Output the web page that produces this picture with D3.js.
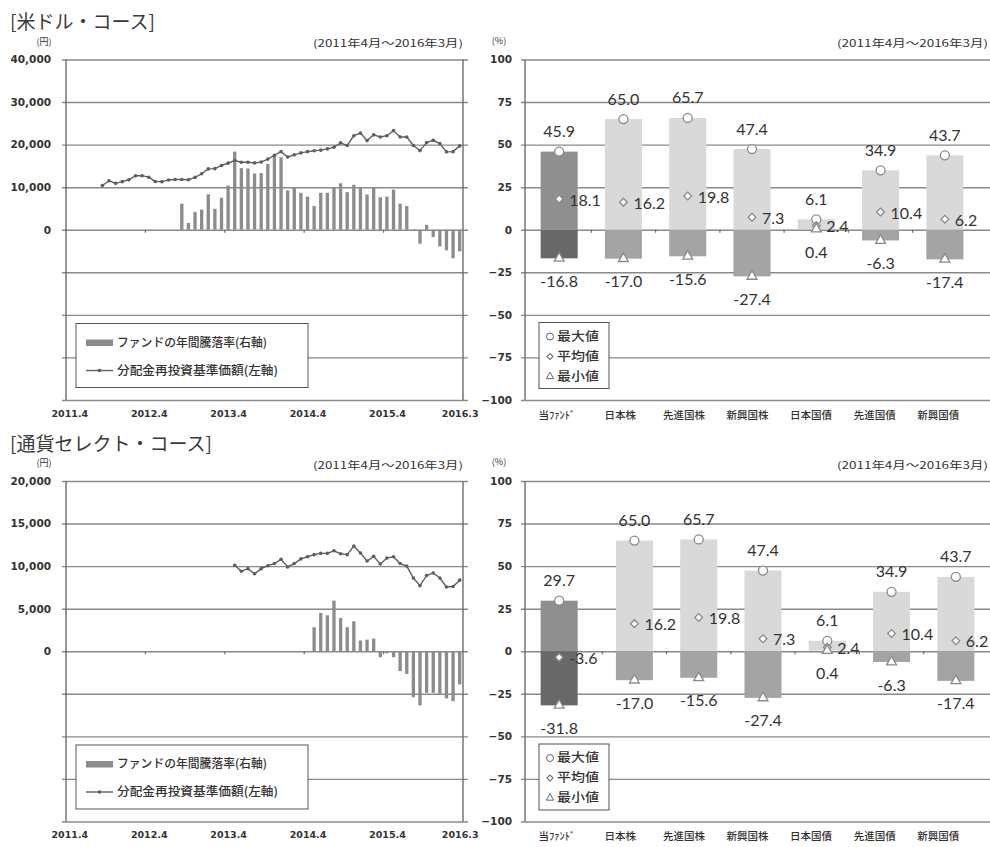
<!DOCTYPE html>
<html>
<head>
<meta charset="utf-8">
<script src="https://cdn.jsdelivr.net/npm/d3@7"></script>
<style>
  body { margin: 0; background: #fff; }
  svg { display: block; }
  .cjk { font-family: "Noto Sans CJK JP", sans-serif; }
  .num { font-family: Lato, "Noto Sans CJK JP", sans-serif; }
  .tick text { font-family: "DejaVu Sans", sans-serif; }
</style>
</head>
<body>
<svg id="chart" width="990" height="847"></svg>
<script>
// ---- data -------------------------------------------------------------
// monthly axis 2011.4 .. 2016.3
const monthLabels = d3.range(60).map(i => { const t = 3 + i; return `${2011 + Math.floor(t / 12)}.${t % 12 + 1}`; });
const xTickLabels = ["2011.4", "2012.4", "2013.4", "2014.4", "2015.4", "2016.3"];

// 米ドル・コース: 分配金再投資基準価額 (円), from 2011.9
const usdNavFrom = "2011.9";
const usdNav = [10400, 11500, 10900, 11300, 11750, 12700, 12700, 12350, 11350, 11300, 11700, 11800, 11800, 11750,
  12300, 13150, 14300, 14350, 15100, 15650, 16250, 15850, 15850, 15700, 15900, 16600, 17500, 18350, 17100,
  17600, 18050, 18350, 18550, 18700, 19000, 19400, 20400, 19800, 22100, 22700, 20950, 22300, 21800, 22100,
  23300, 21800, 21800, 19800, 18600, 20500, 21000, 20250, 18300, 18350, 19700];
// 米ドル・コース: ファンドの年間騰落率 (%), from 2012.9
const usdReturnFrom = "2012.9";
const usdReturn = [15.3, 4.0, 10.5, 11.8, 20.8, 12.3, 18.8, 26.0, 45.9, 36.2, 36.0, 33.0, 33.3, 38.7, 43.5, 42.6,
  23.1, 25.0, 21.7, 19.5, 13.9, 21.7, 21.7, 25.0, 27.3, 22.1, 26.4, 25.0, 20.7, 25.0, 19.1, 19.5, 23.6, 15.3,
  13.9, 0.3, -8.2, 2.9, -4.3, -9.8, -12.1, -16.8, -12.7];

// 通貨セレクト・コース: 分配金再投資基準価額 (円), from 2013.5
const selNavFrom = "2013.5";
const selNav = [10100, 9400, 9700, 9100, 9700, 10050, 10300, 10800, 9900, 10300, 10850, 11100, 11350, 11500,
  11500, 11800, 11450, 11350, 12350, 11550, 10600, 11150, 10250, 10950, 11100, 10300, 10000, 8600, 7700,
  8900, 9200, 8600, 7550, 7600, 8350];
// 通貨セレクト・コース: ファンドの年間騰落率 (%), from 2014.5
const selReturnFrom = "2014.5";
const selReturn = [14.1, 22.5, 21.1, 29.7, 19.5, 14.1, 17.6, 6.3, 6.8, 7.4, -3.5, -1.2, -3.5, -11.7, -13.3,
  -27.0, -31.8, -24.4, -24.4, -25.0, -27.7, -29.3, -19.5];

// 年間騰落率の比較 (%)
const assetClasses = ["当ﾌｧﾝﾄﾞ", "日本株", "先進国株", "新興国株", "日本国債", "先進国債", "新興国債"];
const usdMax = [45.9, 65.0, 65.7, 47.4, 6.1, 34.9, 43.7];
const usdAvg = [18.1, 16.2, 19.8, 7.3, 2.4, 10.4, 6.2];
const usdMin = [-16.8, -17.0, -15.6, -27.4, 0.4, -6.3, -17.4];
const selMax = [29.7, 65.0, 65.7, 47.4, 6.1, 34.9, 43.7];
const selAvg = [-3.6, 16.2, 19.8, 7.3, 2.4, 10.4, 6.2];
const selMin = [-31.8, -17.0, -15.6, -27.4, 0.4, -6.3, -17.4];

const usdNavTicks = [40000, 30000, 20000, 10000, 0];
const selNavTicks = [20000, 15000, 10000, 5000, 0];
const pctTicks = [100, 75, 50, 25, 0, -25, -50, -75, -100];

const periodText = "(2011年4月～2016年3月)";

// ---- drawing ------------------------------------------------------------
const svg = d3.select("#chart");
const GRID = 42.56;          // height of one gridline interval
const C = {
  grid: "#8a8a8a", axis: "#6c6c6c", text: "#333",
  fundBar: "#8c8c8c", nav: "#5e5e5e",
  fundUp: "#8f8f8f", fundDown: "#686868", assetUp: "#d9d9d9", assetDown: "#a4a4a4",
  marker: "#8a8a8a"
};

// diamond drawn as a square turned 45 degrees
const diamondPath = size => d3.symbol(d3.symbolSquare, size)();

function toSeries(from, values) {
  const start = monthLabels.indexOf(from);
  return monthLabels.map((m, i) => ({ m, v: (i >= start && i - start < values.length) ? values[i - start] : null }));
}

function lineChart(top, cfg) {
  const bottom = top + 8 * GRID;
  const g = svg.append("g");
  const navMax = cfg.navTicks[0];
  const x = d3.scaleBand().domain(monthLabels).range([66, 463]).paddingInner(0.5).paddingOuter(0.25);
  const yNav = d3.scaleLinear().domain([-navMax, navMax]).range([bottom, top]);
  const yRet = d3.scaleLinear().domain([-100, 100]).range([bottom, top]);
  const cx = m => x(m) + x.bandwidth() / 2;

  // title & captions
  g.append("text").attr("class", "cjk").attr("x", 10).attr("y", top - 37).attr("dy", "0.35em")
    .attr("font-size", 19).attr("fill", "#3a3a3a").text(cfg.title);
  g.append("text").attr("class", "cjk").attr("x", 44).attr("y", top - 18).attr("dy", "0.35em")
    .attr("text-anchor", "middle").attr("font-size", 9).attr("fill", C.text).text("(円)");
  g.append("text").attr("class", "cjk").attr("x", 463).attr("y", top - 16).attr("dy", "0.35em")
    .attr("text-anchor", "end").attr("font-size", 10).attr("fill", C.text)
    .attr("textLength", 150).attr("lengthAdjust", "spacingAndGlyphs").text(periodText);

  // gridlines + left axis labels
  const gridTicks = d3.range(-navMax, navMax + 1, navMax / 4);
  const ax = g.append("g").attr("transform", "translate(62,0)")
    .call(d3.axisLeft(yNav).tickValues(gridTicks).tickSize(-(468 - 62)).tickPadding(11)
      .tickFormat(d => d >= 0 ? d3.format(",")(d) : ""));
  ax.select(".domain").remove();
  ax.selectAll(".tick line").attr("stroke", C.grid).attr("stroke-width", 1.4);
  ax.selectAll(".tick text").attr("font-size", 10.5).attr("font-weight", "bold").attr("fill", C.text);

  // plot frame: value axis (left) and secondary axis (right)
  g.selectAll("line.frame").data(x.range()).join("line").attr("class", "frame")
    .attr("x1", d => d).attr("x2", d => d).attr("y1", top).attr("y2", bottom)
    .attr("stroke", C.axis).attr("stroke-width", 1.4);

  // category ticks on the zero line, every 12 months
  const yearStarts = monthLabels.filter((m, i) => i > 0 && i % 12 === 0);
  g.selectAll("line.cat").data(yearStarts).join("line").attr("class", "cat")
    .attr("x1", m => x(m) - (x.step() - x.bandwidth()) / 2).attr("x2", m => x(m) - (x.step() - x.bandwidth()) / 2)
    .attr("y1", yNav(0)).attr("y2", yNav(0) + 3).attr("stroke", C.axis).attr("stroke-width", 1.2);

  // x labels along the bottom
  const xa = g.append("g").attr("transform", `translate(0,${bottom + 4})`)
    .call(d3.axisBottom(d3.scalePoint().domain(monthLabels).range([cx(monthLabels[0]), cx(monthLabels[59])]))
      .tickValues(xTickLabels).tickSize(0).tickPadding(6));
  xa.select(".domain").remove();
  xa.selectAll(".tick text").attr("font-size", 9.5).attr("font-weight", "bold").attr("fill", C.text);

  // bars: annual return (right axis)
  const ret = toSeries(cfg.retFrom, cfg.ret).filter(d => d.v !== null);
  g.selectAll("rect.ret").data(ret).join("rect").attr("class", "ret")
    .attr("x", d => x(d.m)).attr("width", x.bandwidth())
    .attr("y", d => yRet(Math.max(0, d.v))).attr("height", d => Math.abs(yRet(d.v) - yRet(0)))
    .attr("fill", C.fundBar);

  // line: reinvested NAV (left axis)
  const nav = toSeries(cfg.navFrom, cfg.nav);
  g.append("path").datum(nav)
    .attr("d", d3.line().defined(d => d.v !== null).x(d => cx(d.m)).y(d => yNav(d.v)))
    .attr("fill", "none").attr("stroke", C.nav).attr("stroke-width", 1.4);
  g.selectAll("circle.nav").data(nav.filter(d => d.v !== null)).join("circle").attr("class", "nav")
    .attr("cx", d => cx(d.m)).attr("cy", d => yNav(d.v)).attr("r", 1.8).attr("fill", C.nav);

  // legend
  const lg = g.append("g");
  lg.append("rect").attr("x", 76).attr("y", top + 264).attr("width", 232).attr("height", 64)
    .attr("fill", "#fff").attr("stroke", "#555").attr("stroke-width", 1);
  lg.append("rect").attr("x", 86).attr("y", top + 280).attr("width", 27).attr("height", 6.5).attr("fill", C.fundBar);
  lg.append("text").attr("class", "cjk").attr("x", 117).attr("y", top + 283).attr("dy", "0.35em")
    .attr("font-size", 12).attr("font-weight", 500).attr("fill", C.text)
    .attr("textLength", 150).attr("lengthAdjust", "spacingAndGlyphs").text("ファンドの年間騰落率(右軸)");
  lg.append("line").attr("x1", 86).attr("x2", 113).attr("y1", top + 311).attr("y2", top + 311)
    .attr("stroke", C.nav).attr("stroke-width", 1.4);
  lg.append("circle").attr("cx", 99.5).attr("cy", top + 311).attr("r", 1.8).attr("fill", C.nav);
  lg.append("text").attr("class", "cjk").attr("x", 117).attr("y", top + 311).attr("dy", "0.35em")
    .attr("font-size", 12).attr("font-weight", 500).attr("fill", C.text)
    .attr("textLength", 161).attr("lengthAdjust", "spacingAndGlyphs").text("分配金再投資基準価額(左軸)");
}

function rangeChart(top, cfg) {
  const bottom = top + 8 * GRID;
  const g = svg.append("g");
  const y = d3.scaleLinear().domain([-100, 100]).range([bottom, top]);
  const xFund = d3.scaleBand().domain(assetClasses).range([527, 977]).paddingInner(0.424).paddingOuter(0.212);
  const xAsset = d3.scaleBand().domain(assetClasses).range([527 + cfg.assetShift, 977 + cfg.assetShift])
    .paddingInner(0.424).paddingOuter(0.212);
  const xLabel = d3.scaleBand().domain(assetClasses).range([525, 970]);
  const xs = (c, i) => i === 0 ? xFund : xAsset;
  const cx = (c, i) => xs(c, i)(c) + xs(c, i).bandwidth() / 2;

  g.append("text").attr("class", "cjk").attr("x", 499).attr("y", top - 19).attr("dy", "0.35em")
    .attr("text-anchor", "middle").attr("font-size", 9).attr("fill", C.text).text("(%)");
  g.append("text").attr("class", "cjk").attr("x", 988).attr("y", top - 16).attr("dy", "0.35em")
    .attr("text-anchor", "end").attr("font-size", 10).attr("fill", C.text)
    .attr("textLength", 151).attr("lengthAdjust", "spacingAndGlyphs").text(periodText);

  const ax = g.append("g").attr("transform", "translate(521,0)")
    .call(d3.axisLeft(y).tickValues(pctTicks).tickSize(-(990 - 521)).tickPadding(9));
  ax.select(".domain").remove();
  ax.selectAll(".tick line").attr("stroke", C.grid).attr("stroke-width", 1.4);
  ax.selectAll(".tick text").attr("font-size", 10.5).attr("font-weight", "bold").attr("fill", C.text);
  g.append("line").attr("x1", 525).attr("x2", 525).attr("y1", top).attr("y2", bottom)
    .attr("stroke", C.axis).attr("stroke-width", 1.4);

  const rows = assetClasses.map((c, i) => ({ c, i, max: cfg.max[i], avg: cfg.avg[i], min: cfg.min[i] }));

  // category ticks on the zero line
  g.selectAll("line.cat").data(assetClasses.slice(1)).join("line").attr("class", "cat")
    .attr("x1", c => xAsset(c) - xAsset.step() * xAsset.paddingInner() / 2)
    .attr("x2", c => xAsset(c) - xAsset.step() * xAsset.paddingInner() / 2)
    .attr("y1", y(0)).attr("y2", y(0) + 3).attr("stroke", C.axis).attr("stroke-width", 1.2);

  // range bars: upper (positive) part and lower (negative) part
  g.selectAll("rect.up").data(rows).join("rect").attr("class", "up")
    .attr("x", d => xs(d.c, d.i)(d.c)).attr("width", xFund.bandwidth())
    .attr("y", d => y(d.max)).attr("height", d => y(Math.max(0, d.min)) - y(d.max))
    .attr("fill", d => d.i === 0 ? C.fundUp : C.assetUp);
  g.selectAll("rect.down").data(rows.filter(d => d.min < 0)).join("rect").attr("class", "down")
    .attr("x", d => xs(d.c, d.i)(d.c)).attr("width", xFund.bandwidth())
    .attr("y", y(0)).attr("height", d => y(d.min) - y(0))
    .attr("fill", d => d.i === 0 ? C.fundDown : C.assetDown);

  // markers
  const mk = sel => sel.attr("fill", "#fff").attr("stroke", C.marker).attr("stroke-width", 1.3);
  mk(g.selectAll("circle.max").data(rows).join("circle").attr("class", "max")
    .attr("cx", d => cx(d.c, d.i)).attr("cy", d => y(d.max)).attr("r", 4.5));
  mk(g.selectAll("path.avg").data(rows).join("path").attr("class", "avg")
    .attr("d", diamondPath(30))
    .attr("transform", d => `translate(${cx(d.c, d.i)},${y(d.avg)}) rotate(45)`));
  mk(g.selectAll("path.min").data(rows).join("path").attr("class", "min")
    .attr("d", d3.symbol(d3.symbolTriangle, 42))
    .attr("transform", d => `translate(${cx(d.c, d.i)},${y(d.min)})`));

  // value labels
  const lab = sel => sel.attr("class", "num").attr("font-size", 16).attr("fill", C.text).attr("dy", "0.35em");
  lab(g.selectAll("text.max").data(rows).join("text")).attr("x", d => cx(d.c, d.i)).attr("y", d => y(d.max) - 20)
    .attr("text-anchor", "middle").text(d => d.max.toFixed(1));
  lab(g.selectAll("text.avg").data(rows).join("text")).attr("x", d => cx(d.c, d.i) + 10).attr("y", d => y(d.avg) + 1)
    .text(d => d.avg.toFixed(1));
  lab(g.selectAll("text.min").data(rows).join("text")).attr("x", d => cx(d.c, d.i)).attr("y", d => y(d.min) + 23)
    .attr("text-anchor", "middle").text(d => d.min.toFixed(1));

  // category labels
  g.selectAll("text.cat").data(assetClasses).join("text").attr("class", "cjk")
    .attr("x", c => xLabel(c) + xLabel.bandwidth() / 2).attr("y", bottom + 15).attr("dy", "0.35em")
    .attr("text-anchor", "middle").attr("font-size", 10.5).attr("font-weight", 500).attr("fill", C.text).text(c => c);

  // legend
  const lg = g.append("g");
  lg.append("rect").attr("x", 539).attr("y", top + 263).attr("width", 70).attr("height", 66)
    .attr("fill", "#fff").attr("stroke", "#555").attr("stroke-width", 1);
  const items = ["最大値", "平均値", "最小値"];
  items.forEach((t, k) => {
    const yy = top + 277 + k * 20;
    const sym = lg.append(k === 0 ? "circle" : "path");
    if (k === 0) sym.attr("cx", 550).attr("cy", yy).attr("r", 3.5);
    else if (k === 1) sym.attr("d", diamondPath(18)).attr("transform", `translate(550,${yy}) rotate(45)`);
    else sym.attr("d", d3.symbol(d3.symbolTriangle, 24)).attr("transform", `translate(550,${yy})`);
    sym.attr("fill", "#fff").attr("stroke", "#666").attr("stroke-width", 1);
    lg.append("text").attr("class", "cjk").attr("x", 557).attr("y", yy).attr("dy", "0.35em")
      .attr("font-size", 12.5).attr("font-weight", 500).attr("fill", C.text)
      .attr("textLength", 42).attr("lengthAdjust", "spacingAndGlyphs").text(t);
  });
}

lineChart(59.5, { title: "[米ドル・コース]", navTicks: usdNavTicks, navFrom: usdNavFrom, nav: usdNav,
  retFrom: usdReturnFrom, ret: usdReturn });
rangeChart(59.5, { max: usdMax, avg: usdAvg, min: usdMin, assetShift: 0 });
lineChart(481, { title: "[通貨セレクト・コース]", navTicks: selNavTicks, navFrom: selNavFrom, nav: selNav,
  retFrom: selReturnFrom, ret: selReturn });
rangeChart(481, { max: selMax, avg: selAvg, min: selMin, assetShift: 11 });
</script>
</body>
</html>
